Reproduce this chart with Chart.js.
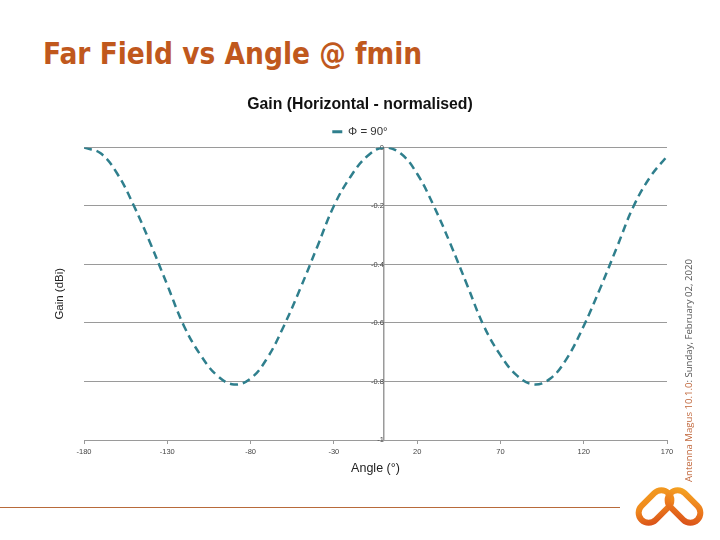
<!DOCTYPE html>
<html>
<head>
<meta charset="utf-8">
<script src="https://cdn.jsdelivr.net/npm/chart.js@4/dist/chart.umd.min.js"></script>
<style>
  html, body { margin:0; padding:0; background:#fff; }
  #wrap { position:relative; width:720px; height:540px; overflow:hidden; }
  #cv { position:absolute; left:0; top:0; }
  #pageTitle { position:absolute; left:43px; top:37px; font-family:"DejaVu Sans Condensed","DejaVu Sans",sans-serif; font-weight:bold; font-size:29.5px; color:#c0581d; white-space:nowrap; }
  #side { position:absolute; left:683px; top:482px; transform-origin:left top; transform:rotate(-90deg); white-space:nowrap; font-family:"Open Sans",sans-serif; font-size:9.6px; line-height:11px; color:#555; }
  #side .brand { color:#c0663a; }
  #rule { position:absolute; left:0; top:507px; width:620px; height:1px; background:#b86a3a; }
  #logo { position:absolute; left:630px; top:484px; }
</style>
</head>
<body>
<div id="wrap">
  <div id="pageTitle">Far Field vs Angle @ fmin</div>
  <canvas id="cv" width="720" height="540"></canvas>
  <div id="side"><span class="brand">Antenna Magus 10.1.0</span>: Sunday, February 02, 2020</div>
  <div id="rule"></div>
  <svg id="logo" width="80" height="50" viewBox="0 0 80 50">
    <defs>
      <linearGradient id="g1" x1="0" y1="1" x2="1" y2="0">
        <stop offset="0" stop-color="#d9501a"/>
        <stop offset="0.55" stop-color="#f08a1c"/>
        <stop offset="1" stop-color="#f29a20"/>
      </linearGradient>
      <linearGradient id="g2" x1="0" y1="0" x2="1" y2="1">
        <stop offset="0" stop-color="#f5a623"/>
        <stop offset="0.5" stop-color="#ec7a1c"/>
        <stop offset="1" stop-color="#d9501a"/>
      </linearGradient>
    </defs>
    <rect x="6" y="12.5" width="38" height="20" rx="10" ry="10" transform="rotate(-45 25 22.5)" fill="none" stroke="url(#g1)" stroke-width="6"/>
    <rect x="35" y="12.5" width="38" height="20" rx="10" ry="10" transform="rotate(45 54 22.5)" fill="none" stroke="url(#g2)" stroke-width="6"/>
  </svg>
</div>
<script>
const chartTitle = 'Gain (Horizontal - normalised)';
const seriesLabel = '\u03A6 = 90\u00B0';
const xAxisTitle = 'Angle (\u00B0)';
const yAxisTitle = 'Gain (dBi)';
const angles = [-180,-170,-160,-150,-140,-130,-120,-110,-100,-90,-80,-70,-60,-50,-40,-30,-20,-10,0,10,20,30,40,50,60,70,80,90,100,110,120,130,140,150,160,170];
const gain = [0,-0.02,-0.09,-0.2,-0.33,-0.47,-0.61,-0.71,-0.78,-0.81,-0.79,-0.72,-0.61,-0.48,-0.34,-0.2,-0.1,-0.03,0,-0.02,-0.09,-0.2,-0.33,-0.47,-0.61,-0.71,-0.78,-0.81,-0.79,-0.72,-0.61,-0.48,-0.34,-0.2,-0.1,-0.03];
const xMin = -180, xMax = 170, xStep = 50;
const yMin = -1, yMax = 0, yStep = 0.2;

const LINE = '#2f7f8d';
const GRID = '#9a9a9a';
const points = angles.map((a, i) => ({x: a, y: gain[i]}));

new Chart(document.getElementById('cv'), {
  type: 'line',
  data: { datasets: [{
    label: seriesLabel,
    data: points,
    borderColor: LINE,
    backgroundColor: LINE,
    borderWidth: 2.5,
    borderDash: [8, 5],
    pointRadius: 0,
    tension: 0.4,
    fill: false
  }]},
  options: {
    responsive: false,
    animation: false,
    layout: { padding: { left: 53, right: 53, top: 93, bottom: 64 } },
    plugins: {
      title: { display: true, text: chartTitle, color: '#111',
        font: { family: 'Liberation Sans', size: 15.8, weight: 'bold' },
        padding: { top: 2, bottom: 6 } },
      legend: { display: true, position: 'top',
        labels: { color: '#333', font: { family: 'Liberation Sans', size: 11.5 },
          boxWidth: 10, boxHeight: 3, padding: 6,
          generateLabels(chart) {
            const items = Chart.defaults.plugins.legend.labels.generateLabels(chart);
            items.forEach(it => { it.lineDash = []; it.fillStyle = LINE; it.strokeStyle = LINE; it.lineWidth = 0; });
            return items;
          } } },
      tooltip: { enabled: false }
    },
    scales: {
      x: { type: 'linear', min: xMin, max: xMax,
        ticks: { stepSize: xStep, color: '#444', font: { family: 'Liberation Sans', size: 7.5 }, padding: 3, maxRotation: 0 },
        grid: { drawOnChartArea: false, color: GRID, tickLength: 4 },
        border: { color: GRID, width: 1 },
        title: { display: true, text: xAxisTitle, color: '#222', font: { family: 'Liberation Sans', size: 12.5 }, padding: { top: 2, bottom: 0 } }
      },
      y: { type: 'linear', min: yMin, max: yMax, position: { x: 0 },
        ticks: { stepSize: yStep, color: '#444', font: { family: 'Liberation Sans', size: 7.5 }, padding: 2,
          callback: v => String(Math.round(v * 10) / 10) },
        grid: { color: GRID, lineWidth: 1, tickLength: 3 },
        border: { color: GRID, width: 1.5 }
      },
      yTitle: { type: 'linear', position: 'left', min: yMin, max: yMax,
        ticks: { display: false }, grid: { display: false }, border: { display: false },
        title: { display: true, text: yAxisTitle, color: '#222', font: { family: 'Liberation Sans', size: 11.5 }, padding: 0 },
        afterFit(scale) { scale.width = 31; }
      }
    }
  }
});
</script>
</body>
</html>
